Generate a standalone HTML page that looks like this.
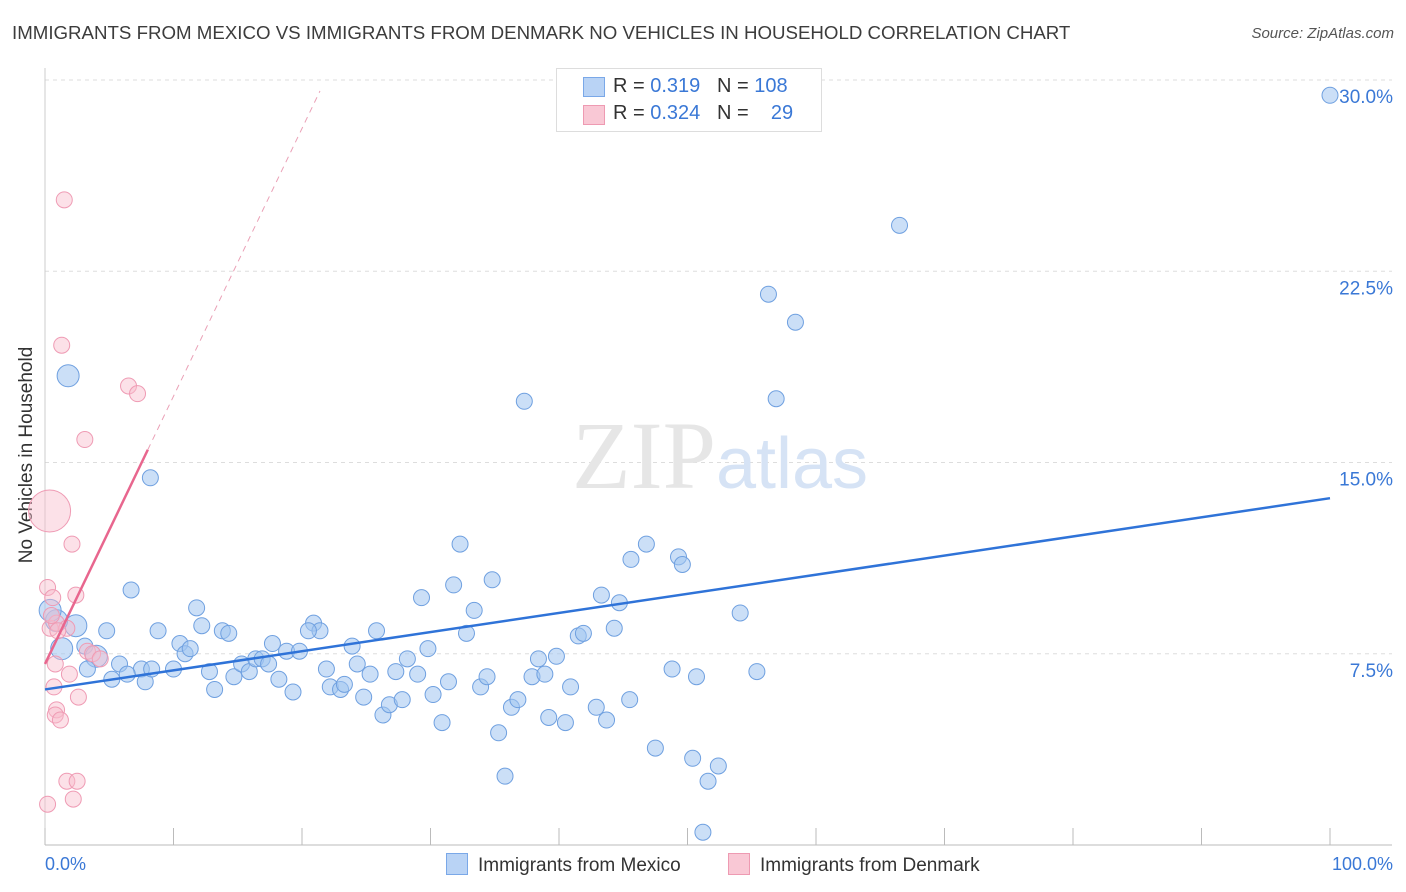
<!DOCTYPE html>
<html><head><meta charset="utf-8"><style>
body{margin:0;background:#fff;font-family:"Liberation Sans",sans-serif;}
#wrap{position:relative;width:1406px;height:892px;overflow:hidden;}
.t{position:absolute;white-space:nowrap;}
</style></head><body>
<div id="wrap">
<div class="t" style="left:12px;top:22px;font-size:18.7px;color:#3c3c3c;">IMMIGRANTS FROM MEXICO VS IMMIGRANTS FROM DENMARK NO VEHICLES IN HOUSEHOLD CORRELATION CHART</div>
<div class="t" style="right:12px;top:25px;font-size:15px;color:#555;font-style:italic;">Source: ZipAtlas.com</div>
<div class="t" style="left:-83px;top:444px;font-size:19px;color:#333;transform:rotate(-90deg);width:220px;text-align:center;">No Vehicles in Household</div>
<svg id="svg" width="1406" height="892" style="position:absolute;left:0;top:0"></svg>
<div style="position:absolute;left:556px;top:68px;width:264px;height:62px;border:1px solid #ddd;background:#fff;font-size:20px;">
 <div style="position:absolute;left:26px;top:8px;width:20px;height:18px;background:#b9d3f5;border:1px solid #7aa8e8;"></div>
 <div class="t" style="left:56px;top:6px;color:#333;">R = <span style="color:#3a78d6">0.319</span>&nbsp;&nbsp;&nbsp;N = <span style="color:#3a78d6">108</span></div>
 <div style="position:absolute;left:26px;top:36px;width:20px;height:18px;background:#f9c8d5;border:1px solid #ee9ab2;"></div>
 <div class="t" style="left:56px;top:33px;color:#333;">R = <span style="color:#3a78d6">0.324</span>&nbsp;&nbsp;&nbsp;N = &nbsp;&nbsp;&nbsp;<span style="color:#3a78d6">29</span></div>
</div>
<div style="position:absolute;left:446px;top:853px;font-size:19px;color:#333;">
 <span style="display:inline-block;width:20px;height:20px;background:#b9d3f5;border:1px solid #7aa8e8;vertical-align:-4px;margin-right:10px"></span>Immigrants from Mexico</div>
<div style="position:absolute;left:728px;top:853px;font-size:19px;color:#333;">
 <span style="display:inline-block;width:20px;height:20px;background:#f9c8d5;border:1px solid #ee9ab2;vertical-align:-4px;margin-right:10px"></span>Immigrants from Denmark</div>
</div>
<script>
const yTicks=[7.5,15,22.5,30];
const yTickLabels=["7.5%","15.0%","22.5%","30.0%"];
const xLabels=["0.0%","100.0%"];
const mexX=[100,66.5,56.3,58.4,37.3,56.9,1.8,8.2,32.3,46.8,45.6,49.3,49.6,34.8,31.8,43.3,29.3,44.7,54.1,33.4,6.7,11.8,4.8,8.8,12.2,13.8,14.3,20.9,21.4,25.8,32.8,41.5,41.9,44.3,2.4,0.9,0.4,1.3,3.1,4.0,3.3,5.8,7.5,5.2,6.4,7.8,10.0,10.5,10.9,11.3,12.8,13.2,14.7,15.3,15.9,16.4,16.9,17.4,17.7,18.2,18.8,19.3,19.8,20.5,21.9,22.2,23.0,23.3,23.9,24.3,24.8,25.3,26.3,26.8,27.3,27.8,28.2,29.0,29.8,30.2,30.9,31.4,33.9,34.4,35.3,35.8,36.3,36.8,37.9,38.4,38.9,39.2,39.8,40.5,40.9,42.9,43.7,45.5,47.5,48.8,50.4,50.7,51.6,52.4,51.2,55.4,8.3];
const mexY=[29.4,24.3,21.6,20.5,17.4,17.5,18.4,14.4,11.8,11.8,11.2,11.3,11.0,10.4,10.2,9.8,9.7,9.5,9.1,9.2,10.0,9.3,8.4,8.4,8.6,8.4,8.3,8.7,8.4,8.4,8.3,8.2,8.3,8.5,8.6,8.8,9.2,7.7,7.8,7.4,6.9,7.1,6.9,6.5,6.7,6.4,6.9,7.9,7.5,7.7,6.8,6.1,6.6,7.1,6.8,7.3,7.3,7.1,7.9,6.5,7.6,6.0,7.6,8.4,6.9,6.2,6.1,6.3,7.8,7.1,5.8,6.7,5.1,5.5,6.8,5.7,7.3,6.7,7.7,5.9,4.8,6.4,6.2,6.6,4.4,2.7,5.4,5.7,6.6,7.3,6.7,5.0,7.4,4.8,6.2,5.4,4.9,5.7,3.8,6.9,3.4,6.6,2.5,3.1,0.5,6.8,6.9];
const mexBig=[6,34,35,36,37,39];
const denX=[0.2,1.5,1.3,6.5,7.2,3.1,2.1,0.2,0.6,2.4,0.4,0.9,1.7,3.3,3.7,4.3,0.8,1.9,0.7,2.6,0.9,0.8,1.2,1.7,2.5,2.2,0.2,0.5,1.0];
const denY=[13.1,25.3,19.6,18.0,17.7,15.9,11.8,10.1,9.7,9.8,8.5,8.7,8.5,7.6,7.5,7.3,7.1,6.7,6.2,5.8,5.3,5.1,4.9,2.5,2.5,1.8,1.6,9.0,8.4];
const denBig=[0];
const mexTrend=[6.1,13.6];
const denTrend=[7.1,1.05];
const NS="http://www.w3.org/2000/svg";
const svg=document.getElementById('svg');
const X=v=>45+v*12.85, Y=v=>845-v*25.5;
function mk(tag,attrs){const e=document.createElementNS(NS,tag);for(const k in attrs)e.setAttribute(k,attrs[k]);svg.appendChild(e);return e;}
yTicks.forEach((t,i)=>{
 const g=mk('line',{x1:45,x2:1392,y1:Y(t),y2:Y(t),stroke:'#ddd','stroke-dasharray':'4 4'});
 
 
 const tx=mk('text',{x:1393,y:Y(t)+23,'text-anchor':'end','font-size':19,fill:'#3a78d6','font-family':'Liberation Sans'});
 tx.textContent=yTickLabels[i];
 
 
});
const ax=mk('line',{x1:45,x2:1392,y1:845,y2:845,stroke:'#bbb'});


const ay=mk('line',{x1:45,x2:45,y1:68,y2:845,stroke:'#ccc'});


for(let i=0;i<=10;i++){
 const tk=mk('line',{x1:X(i*10),x2:X(i*10),y1:828,y2:845,stroke:'#bbb'});
 
 
}
[[0,'start',45],[100,'end',1393]].forEach((d,i)=>{
 const tx=mk('text',{x:d[2],y:870,'text-anchor':d[1],'font-size':18,fill:'#3a78d6','font-family':'Liberation Sans'});
 tx.textContent=xLabels[i];
 
 
});
const wm=mk('text',{x:720,y:488,'text-anchor':'middle','font-size':96,fill:'#e6e6e6','font-family':'Liberation Serif'});
wm.innerHTML='ZIP<tspan fill="#d6e3f5" font-family="Liberation Sans" font-size="72">atlas</tspan>';


mexX.forEach((x,i)=>{
 const c=mk('circle',{cx:X(x),cy:Y(mexY[i]),r:mexBig.includes(i)?11:8,fill:'rgba(160,196,240,0.55)',stroke:'#6fa0e0','stroke-width':1});
 
 
});
denX.forEach((x,i)=>{
 const c=mk('circle',{cx:X(x)+(denBig.includes(i)?2:0),cy:Y(denY[i]),r:denBig.includes(i)?21:8,fill:'rgba(248,188,205,0.45)',stroke:'#ef9bb4','stroke-width':1});
 
 
});
const tl=mk('line',{x1:X(0),y1:Y(mexTrend[0]),x2:X(100),y2:Y(mexTrend[1]),stroke:'#2f73d8','stroke-width':2.5});


const xs=8.0, xe=21.4;
const pl=mk('line',{x1:X(0),y1:Y(denTrend[0]),x2:X(xs),y2:Y(denTrend[0]+denTrend[1]*xs),stroke:'#e8668e','stroke-width':2.5});


const pd=mk('line',{x1:X(xs),y1:Y(denTrend[0]+denTrend[1]*xs),x2:X(xe),y2:Y(denTrend[0]+denTrend[1]*xe),stroke:'#eaa0b6','stroke-width':1,'stroke-dasharray':'6 5'});


</script>
</body></html>
